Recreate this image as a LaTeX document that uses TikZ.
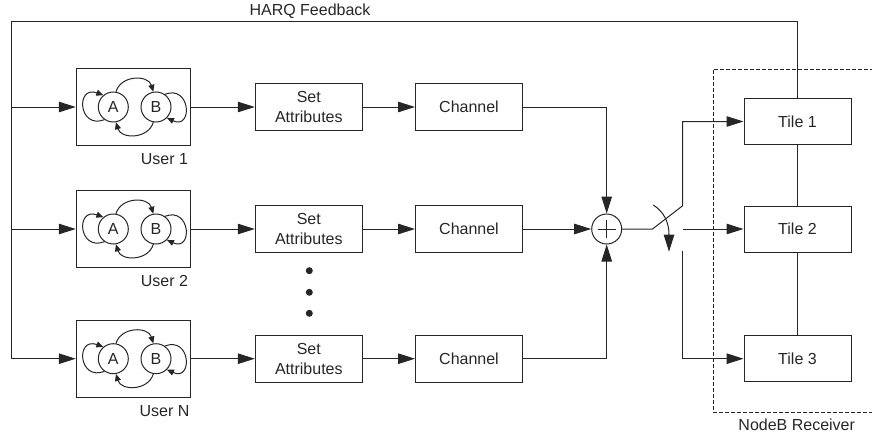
\documentclass[tikz,border=0pt]{standalone}
\usepackage{fontspec}
\setmainfont{Liberation Sans}
\usetikzlibrary{arrows.meta,calc}
\begin{document}
\begin{tikzpicture}[x=1pt,y=-1pt,line width=1pt,color=black!85,
  font=\fontsize{16}{20}\selectfont,
  blockbox/.style={draw,minimum width=107pt,minimum height=47pt,inner sep=0pt,align=center},
  tilebox/.style={draw,fill=white,minimum width=107pt,minimum height=46pt,inner sep=0pt},
  userbox/.style={draw,minimum width=114.5pt,minimum height=77pt,inner sep=0pt},
  fsmstate/.style={draw,circle,minimum size=30pt,inner sep=0pt},
  bigarrow/.style={-{Triangle[length=17pt,width=10.5pt]}},
  smallarrow/.style={-{Triangle[length=7pt,width=6pt]}},
  receiver/.style={dash pattern=on 4pt off 2pt},
]
\useasboundingbox (0,0) rectangle (872,436);

% user rows: state machine, attribute setting and channel
\foreach \i/\y/\lab in {1/107/User 1,2/229/User 2,3/358.7/User N}{
  \node[userbox] (u\i) at (133.5,\y) {};
  \node[fsmstate] (a\i) at (113.3,\y) {A};
  \node[fsmstate] (b\i) at (156,\y) {B};
  \draw[smallarrow] (a\i.235) .. controls +(-26,10) and +(-28,-10) .. (a\i.130);
  \draw[smallarrow] (b\i.55) .. controls +(26,-10) and +(26,12) .. (b\i.-45);
  \draw[smallarrow] (a\i.80) .. controls +(5,-17) and +(-5,-17) .. (b\i.100);
  \draw[smallarrow] (b\i.-100) .. controls +(-5,17) and +(5,17) .. (a\i.-80);
  \node (ul\i) at ($(u\i.south)+(31,13)$) {\lab};
  \node[blockbox] (s\i) at (308.8,\y) {Set\\Attributes};
  \node[blockbox] (c\i) at (469,\y) {Channel};
  \draw[bigarrow] (u\i.east) -- (s\i.west);
  \draw[bigarrow] (s\i.east) -- (c\i.west);
}

% dots between the second and third row
\fill (309.3,270.7) circle (3.5pt);
\fill (309.3,292.3) circle (3.5pt);
\fill (309.3,313.3) circle (3.5pt);

% summing junction
\node[draw,circle,minimum size=30pt,inner sep=0pt] (sum) at (606.7,229) {};
\draw ($(sum)+(-9,0)$) -- ($(sum)+(9,0)$);
\draw ($(sum)+(0,-9)$) -- ($(sum)+(0,9)$);
\draw[bigarrow] (c1.east) -| (sum.north);
\draw[bigarrow] (c2.east) -- (sum.west);
\draw[bigarrow] (c3.east) -| (sum.south);

% receiver tiles
\node[tilebox] (t1) at (797.5,121.5) {Tile 1};
\node[tilebox] (t2) at (797.5,229) {Tile 2};
\node[tilebox] (t3) at (797.5,358.7) {Tile 3};
\draw (t1.south) -- (t2.north);
\draw (t2.south) -- (t3.north);

% switch between the tiles
\coordinate (pivot) at (652.5,229);
\coordinate (swtop) at (682.7,205.7);
\coordinate (o2) at (682.7,229);
\coordinate (o3) at (682.7,251);
\coordinate (arcS) at (653.3,205);
\coordinate (arcE) at (669,251.7);
\draw[bigarrow] (sum.east) -- (pivot) -- (swtop) |- (t1.west);
\draw[bigarrow] (o2) -- (t2.west);
\draw[bigarrow] (o3) |- (t3.west);
\draw[bigarrow] (arcS) .. controls (664,212) and (669,222) .. (arcE);

% HARQ feedback loop
\coordinate (fbtop) at (11,22);
\draw (t1.north) |- (fbtop) -- (fbtop |- u3.west);
\foreach \i in {1,2,3}{
  \draw[bigarrow] (fbtop |- u\i.west) -- (u\i.west);
}
\node (harq) at (310,11) {HARQ Feedback};

% NodeB receiver boundary
\draw[receiver] (874,69) -| (713.3,412.3) -- (874,412.3);
\node (nodeb) at (796.7,425) {NodeB Receiver};
\end{tikzpicture}
\end{document}
